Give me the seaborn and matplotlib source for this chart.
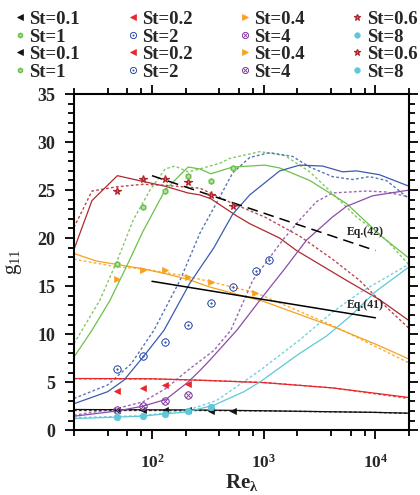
import numpy as np
import pandas as pd
import matplotlib
matplotlib.use("Agg")
import matplotlib.pyplot as plt
import seaborn as sns
from matplotlib.lines import Line2D
from matplotlib.ticker import FixedLocator, FixedFormatter, MultipleLocator, LogLocator, NullFormatter

#%% data
st_labels = ["St=0.1", "St=0.2", "St=0.4", "St=0.6", "St=1", "St=2", "St=4", "St=8"]
colors = ["#111111", "#e8262b", "#f7a11e", "#b0282e", "#6cc04a", "#3b5cad", "#8c4ca8", "#5ec8d9"]

# solid curves
re_s01 = [20, 100, 268, 1000, 10000, 20000]
g_s01 = [2.15, 2.12, 2.1, 2.02, 1.85, 1.77]
re_s02 = [20, 100, 268, 1000, 4130, 20000]
g_s02 = [5.38, 5.35, 5.2, 4.95, 4.4, 3.4]
re_s04 = [20, 32, 49, 83, 131, 210, 330, 1000, 4130, 10000, 20000]
g_s04 = [18.4, 17.6, 17.25, 16.8, 16.3, 15.7, 14.9, 13.4, 10.8, 8.96, 7.4]
re_s06 = [20, 29, 49, 83, 131, 210, 268, 336, 574, 750, 1390, 1970, 5500, 10860, 20000]
g_s06 = [18.8, 23.9, 26.5, 25.9, 25.4, 24.7, 24.5, 24.1, 22.3, 21.5, 20.0, 18.7, 15.6, 13.6, 11.4]
re_s1 = [20, 29, 42, 60, 83, 131, 210, 268, 336, 528, 1020, 1390, 2580, 5500, 11550, 20000]
g_s1 = [7.6, 10.4, 13.5, 17.2, 20.7, 25.0, 27.4, 27.2, 26.7, 27.4, 27.6, 27.3, 26.0, 23.6, 20.1, 17.9]
re_s2 = [20, 40, 56, 83, 128, 218, 358, 528, 750, 1390, 2100, 3370, 5070, 6770, 10860, 20000]
g_s2 = [2.75, 4.0, 5.2, 7.6, 10.4, 15.3, 19.0, 22.5, 24.5, 27.0, 27.6, 27.5, 26.9, 27.0, 26.6, 25.4]
re_s4 = [20, 49, 83, 133, 210, 268, 330, 574, 920, 1540, 2420, 4130, 5500, 9400, 20000]
g_s4 = [1.45, 2.0, 2.5, 3.2, 5.0, 6.2, 7.3, 10.4, 13.5, 16.8, 19.8, 22.2, 23.3, 24.4, 25.0]
re_s8 = [20, 80, 205, 358, 663, 920, 2100, 3650, 5860, 10200, 20000]
g_s8 = [1.2, 1.45, 1.9, 2.6, 4.0, 5.0, 8.0, 9.8, 11.8, 14.5, 17.0]

# dotted curves
re_d01 = [20, 100, 268, 1000, 10000, 20000]
g_d01 = [2.05, 2.05, 2.05, 2.0, 1.85, 1.74]
re_d02 = [20, 100, 268, 1000, 4130, 20000]
g_d02 = [5.35, 5.33, 5.2, 4.97, 4.4, 3.3]
re_d04 = [20, 49, 83, 210, 336, 850, 4130, 20000]
g_d04 = [17.8, 17.0, 16.8, 16.0, 15.45, 14.3, 10.9, 7.0]
re_d06 = [20, 29, 49, 83, 131, 210, 268, 528, 1020, 2100, 4130, 7200, 12030, 20000]
g_d06 = [21.1, 24.9, 25.35, 25.6, 25.5, 25.3, 25.2, 23.6, 22.2, 20.2, 17.8, 15.6, 13.0, 10.6]
re_d1 = [20, 34, 49, 68, 96, 131, 160, 210, 268, 405, 497, 920, 1540, 2580, 4130, 6770, 12530, 20000]
g_d1 = [9.0, 13.5, 17.7, 21.9, 25.0, 27.2, 27.5, 26.9, 27.2, 27.8, 28.3, 29.0, 28.6, 26.9, 24.65, 22.2, 19.8, 17.2]
re_d2 = [20, 40, 65, 104, 178, 268, 405, 528, 750, 1130, 1815, 2580, 4130, 6240, 8840, 12530, 20000]
g_d2 = [3.3, 4.7, 6.9, 10.4, 15.6, 20.5, 24.3, 26.8, 28.4, 28.9, 28.5, 27.4, 26.4, 26.1, 26.4, 26.0, 24.1]
re_d4 = [20, 49, 83, 133, 210, 358, 507, 798, 1480, 2100, 2970, 4130, 8320, 12530, 20000]
g_d4 = [1.56, 2.26, 2.95, 4.34, 6.25, 8.3, 10.4, 15.6, 19.8, 21.9, 23.8, 24.7, 24.9, 24.8, 24.3]
re_d8 = [20, 80, 205, 380, 920, 2100, 4130, 7200, 20000]
g_d8 = [1.3, 1.5, 2.05, 3.1, 6.2, 9.4, 12.3, 14.3, 17.3]

# symbols
re_p01 = [49, 83, 131, 210, 336, 528]
g_p01 = [2.08, 2.08, 2.06, 2.05, 2.04, 2.03]
re_p02 = [49, 83, 131, 210]
g_p02 = [4.06, 4.34, 4.69, 4.79]
re_p04 = [49, 83, 131, 210, 336, 830]
g_p04 = [15.7, 16.7, 16.7, 16.0, 15.45, 14.26]
re_p06 = [49, 83, 131, 210, 336, 528]
g_p06 = [24.86, 26.2, 26.2, 25.8, 24.5, 23.3]
re_p1 = [49, 83, 131, 210, 336, 528]
g_p1 = [17.3, 23.2, 24.9, 26.5, 25.9, 27.25]
re_p2 = [49, 83, 131, 210, 336, 528, 860, 1110]
g_p2 = [6.4, 7.7, 9.2, 10.9, 13.2, 14.9, 16.6, 17.7]
re_p4 = [49, 83, 131, 210]
g_p4 = [2.15, 2.5, 3.0, 3.7]
re_p8 = [49, 83, 131, 210, 336]
g_p8 = [1.32, 1.46, 1.67, 1.98, 2.43]

# reference laws
re_eq = [100, 10000]
g_eq41 = [15.5, 11.7]
g_eq42 = [26.5, 18.7]

solid = [(re_s01, g_s01), (re_s02, g_s02), (re_s04, g_s04), (re_s06, g_s06),
         (re_s1, g_s1), (re_s2, g_s2), (re_s4, g_s4), (re_s8, g_s8)]
dotted = [(re_d01, g_d01), (re_d02, g_d02), (re_d04, g_d04), (re_d06, g_d06),
          (re_d1, g_d1), (re_d2, g_d2), (re_d4, g_d4), (re_d8, g_d8)]
points = [(re_p01, g_p01), (re_p02, g_p02), (re_p04, g_p04), (re_p06, g_p06),
          (re_p1, g_p1), (re_p2, g_p2), (re_p4, g_p4), (re_p8, g_p8)]

# marker style per St (size as a ratio of the base size)
mstyle = [
    dict(marker="<", mfc=colors[0], mec=colors[0], mew=0.5),
    dict(marker="<", mfc=colors[1], mec=colors[1], mew=0.5),
    dict(marker=">", mfc=colors[2], mec=colors[2], mew=0.5),
    dict(marker="*", mfc="#d27a7a", mec=colors[3], mew=0.9),
    dict(marker="h", mfc="#b8e2a4", mec=colors[4], mew=1.1),
    dict(marker="$\\odot$", mfc=colors[5], mec=colors[5], mew=0.4),
    dict(marker="$\\otimes$", mfc=colors[6], mec=colors[6], mew=0.4),
    dict(marker="o", mfc=colors[7], mec=colors[7], mew=0.5),
]
msize = [1.0, 1.0, 1.0, 1.1, 0.75, 1.1, 1.1, 0.95]

#%% style
sns.set_theme(style="ticks")
plt.rcParams["font.family"] = ["Liberation Serif", "DejaVu Serif"]
plt.rcParams["font.weight"] = "bold"
plt.rcParams["mathtext.fontset"] = "custom"
plt.rcParams["mathtext.rm"] = "Liberation Serif:regular"
plt.rcParams["mathtext.bf"] = "Liberation Serif:bold"
plt.rcParams["mathtext.it"] = "Liberation Serif:italic"
plt.rcParams["axes.linewidth"] = 1.5

fig = plt.figure(figsize=(4.2, 4.95), dpi=100)
ax = fig.add_axes([0.176, 0.131, 0.798, 0.679])
ax.set_xscale("log")

#%% curves
for i in range(8):
    x, y = dotted[i]
    sns.lineplot(x=x, y=y, ax=ax, color=colors[i], lw=1.0, alpha=0.85,
                 linestyle=(0, (2.0, 1.6)), estimator=None, sort=False, legend=False)
for i in range(8):
    x, y = solid[i]
    sns.lineplot(x=x, y=y, ax=ax, color=colors[i], lw=0.9,
                 estimator=None, sort=False, legend=False)

sns.lineplot(x=re_eq, y=g_eq42, ax=ax, color="black", lw=1.1,
             linestyle=(0, (7, 4)), estimator=None, legend=False)
sns.lineplot(x=re_eq, y=g_eq41, ax=ax, color="black", lw=1.1,
             estimator=None, legend=False)
ax.text(5500, 20.6, "Eq.(42)", fontsize=8.5, fontweight="bold", va="center", ha="left")
ax.text(5500, 13.0, "Eq.(41)", fontsize=8.5, fontweight="bold", va="center", ha="left")

for i in range(8):
    x, y = points[i]
    ax.plot(x, y, ls="none", ms=5 * msize[i], **mstyle[i])

#%% axes
ax.set_xlim(20, 20000)
ax.set_ylim(0, 35)
ax.xaxis.set_major_locator(FixedLocator([100, 1000, 10000]))
ax.xaxis.set_major_formatter(FixedFormatter([r"$\mathbf{10^{2}}$", r"$\mathbf{10^{3}}$", r"$\mathbf{10^{4}}$"]))
ax.xaxis.set_minor_locator(LogLocator(base=10, subs=[2, 4, 6, 8], numticks=20))
ax.xaxis.set_minor_formatter(NullFormatter())
ax.yaxis.set_major_locator(MultipleLocator(5))
ax.yaxis.set_minor_locator(MultipleLocator(1))
ax.tick_params(which="both", direction="out", top=True, right=True, color="black", width=1.3)
ax.tick_params(which="major", length=6.3)
ax.tick_params(which="minor", length=4.0)
ax.tick_params(axis="y", which="major", labelsize=13, pad=7)
ax.tick_params(axis="x", which="major", labelsize=12.5, pad=11)
for sp in ax.spines.values():
    sp.set_color("black")
    sp.set_linewidth(1.5)

ax.set_xlabel(r"$\mathbf{Re_{\lambda}}$", fontsize=15, labelpad=0)
ax.set_ylabel(r"$\mathrm{g}_{\mathrm{11}}$", fontsize=15, labelpad=10, fontweight="normal")

#%% legend (row-wise order, drawn column-wise by matplotlib)
rows = []
for rep in range(2):
    for i in range(8):
        rows.append(Line2D([], [], ls="none", ms=4.2 * msize[i], **mstyle[i]))
row_labels = st_labels + st_labels
order = [r * 4 + c for c in range(4) for r in range(4)]
fig.legend([rows[k] for k in order], [row_labels[k] for k in order],
           ncol=4, loc="upper left", bbox_to_anchor=(0.030, 0.978),
           frameon=False, fontsize=13.5, handlelength=0.8, handletextpad=0.1,
           columnspacing=2.4, labelspacing=0.02, borderpad=0.0, borderaxespad=0.0)

fig.savefig("out.png", dpi=100)
